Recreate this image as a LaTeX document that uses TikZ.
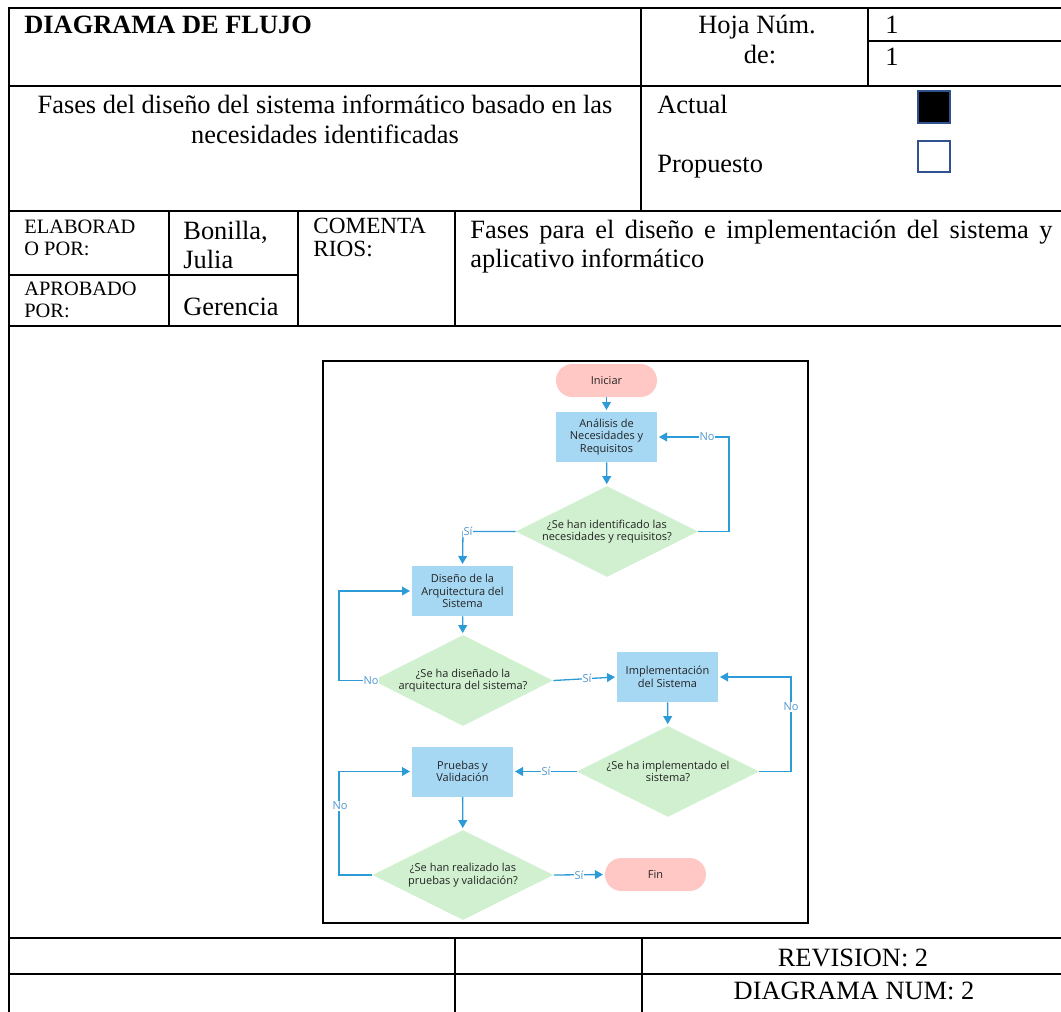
\documentclass[tikz,border=0pt]{standalone}
\usepackage{fontspec}
\setmainfont{Liberation Serif}
\newfontfamily\flowfont{Open Sans}
\usetikzlibrary{shapes.geometric,arrows.meta}

\definecolor{boxblue}{RGB}{166,216,244}
\definecolor{decgreen}{RGB}{208,240,208}
\definecolor{termpink}{RGB}{255,200,196}
\definecolor{flowblue}{RGB}{45,155,215}
\definecolor{labblue}{RGB}{80,150,205}
\definecolor{nodetext}{RGB}{35,35,35}
\definecolor{checkblue}{RGB}{47,82,143}

\newcommand{\flowtext}{\flowfont\fontsize{5.5}{6.2}\selectfont}
\newcommand{\bigserif}{\fontsize{13.2}{14.5}\selectfont}

\tikzset{
  grid/.style={line width=1pt, line cap=rect},
  cell/.style={inner sep=0pt, anchor=base, font=\bigserif},
  cellw/.style={cell, anchor=base west},
  smallcell/.style={inner sep=0pt, anchor=base west, font=\fontsize{10.2}{11}\selectfont},
  midcell/.style={inner sep=0pt, anchor=base west, font=\fontsize{11.6}{12}\selectfont},
  procbox/.style={rectangle, fill=boxblue, minimum width=50.5pt, minimum height=25pt,
    inner sep=0pt, align=center, font=\flowtext, text=nodetext},
  term/.style={rectangle, rounded corners=8.2pt, fill=termpink, minimum width=50.5pt,
    minimum height=16.5pt, inner sep=0pt, font=\flowtext, text=nodetext},
  decision/.style={diamond, fill=decgreen, inner sep=0pt, minimum width=91pt, minimum height=45.5pt},
  dectext/.style={inner sep=0pt, align=center, font=\flowtext, text=nodetext},
  flow/.style={draw=flowblue, line width=0.65pt, -{Triangle[length=4pt,width=4.4pt]}, shorten >=0.8pt},
  lab/.style={fill=white, inner sep=0.5pt, font=\flowtext, text=labblue}
}

\begin{document}
\begin{tikzpicture}[x=0.5pt,y=-0.5pt]
\useasboundingbox (0,0) rectangle (1061,1012);
\clip (0,0) rectangle (1061,1012);

% ---------- form grid ----------
\draw[grid] (9,8) -- (1061,8);
\draw[grid] (868,41) -- (1061,41);
\draw[grid] (9,86) -- (1061,86);
\draw[grid] (9,211) -- (1061,211);
\draw[grid] (9,275) -- (298,275);
\draw[grid] (9,326) -- (1061,326);
\draw[grid] (9,938) -- (1061,938);
\draw[grid] (9,974) -- (1061,974);
\draw[grid] (9,8) -- (9,1012);
\draw[grid] (641,8) -- (641,211);
\draw[grid] (868,8) -- (868,86);
\draw[grid] (169,211) -- (169,326);
\draw[grid] (298,211) -- (298,326);
\draw[grid] (455,211) -- (455,326);
\draw[grid] (455,938) -- (455,1012);
\draw[grid] (642,938) -- (642,1012);

% ---------- header texts ----------
\node[cellw, font=\bigserif\bfseries] (title) at (24,33) {DIAGRAMA DE FLUJO};
\node[cell] (hoja) at (757,33) {Hoja Núm.};
\node[cell] (de) at (760,63) {de:};
\node[cellw] (num1) at (885,33) {1};
\node[cellw] (num2) at (885,65) {1};

\node[cell] (fase1) at (325,113) {Fases del diseño del sistema informático basado en las};
\node[cell] (fase2) at (325,143) {necesidades identificadas};
\node[cellw] (actual) at (657,113) {Actual};
\node[cellw] (prop) at (657,172) {Propuesto};
\draw[draw=checkblue, line width=1pt, fill=black] (918,91) rectangle (950,123);
\draw[draw=checkblue, line width=1pt, fill=white] (918,141) rectangle (950,172);

\node[smallcell] (elab1) at (24,233) {ELABORAD};
\node[smallcell] (elab2) at (24,255) {O POR:};
\node[smallcell] (apro1) at (24,295) {APROBADO};
\node[smallcell] (apro2) at (24,317) {POR:};
\node[cellw] (bon1) at (183,239) {Bonilla,};
\node[cellw] (bon2) at (183,268) {Julia};
\node[cellw] (ger) at (183,315) {Gerencia};
\node[midcell] (com1) at (313,233) {COMENTA};
\node[midcell] (com2) at (313,256) {RIOS:};
\node[cellw] (desc1) at (470,238) {\makebox[291pt][s]{Fases para el diseño e implementación del sistema y}};
\node[cellw] (desc2) at (470,267) {aplicativo informático};

\node[cell] (rev) at (853,966) {REVISION: 2};
\node[cell] (dnum) at (854,999) {DIAGRAMA NUM: 2};

% ---------- flowchart frame ----------
\draw[line width=1.2pt] (323,361) rectangle (808,923);

% ---------- flowchart nodes ----------
\node[term] (ini) at (606.5,380.5) {Iniciar};
\node[procbox] (a1) at (606.5,437) {Análisis de\\Necesidades y\\Requisitos};
\node[decision] (d1) at (607,531.5) {};
\node[dectext] (d1t) at (607,531.5) {¿Se han identificado las\\necesidades y requisitos?};
\node[procbox] (a2) at (462.5,591) {Diseño de la\\Arquitectura del\\Sistema};
\node[decision, minimum width=90pt] (d2) at (463,680.5) {};
\node[dectext] (d2t) at (463,680.5) {¿Se ha diseñado la\\arquitectura del sistema?};
\node[procbox] (a3) at (667.5,677) {Implementación\\del Sistema};
\node[decision] (d3) at (668,771.5) {};
\node[dectext] (d3t) at (668,771.5) {¿Se ha implementado el\\sistema?};
\node[procbox] (a4) at (462.5,771.5) {Pruebas y\\Validación};
\node[decision, minimum width=90.5pt, minimum height=45pt] (d4) at (463,875) {};
\node[dectext] (d4t) at (463,875) {¿Se han realizado las\\pruebas y validación?};
\node[term] (fin) at (655.5,874.5) {Fin};

% ---------- connectors ----------
\coordinate (c1) at (729,531.5);
\coordinate (c2) at (729,437);
\coordinate (c3) at (463,531.5);
\coordinate (c4) at (339,680.5);
\coordinate (c5) at (339,591);
\coordinate (c6) at (791,771.5);
\coordinate (c7) at (791,677);
\coordinate (c8) at (339,875);
\coordinate (c9) at (339,771.5);

\draw[flow] (ini) -- (a1);
\draw[flow] (a1) -- (d1);
\draw[flow] (d1.east) -- (c1) -- (c2) -- (a1.east);
\draw[flow] (d1.west) -- (c3) -- (a2.north);
\draw[flow] (a2) -- (d2);
\draw[flow] (d2.west) -- (c4) -- (c5) -- (a2.west);
\draw[flow] (d2.east) -- (a3.west);
\draw[flow] (a3) -- (d3);
\draw[flow] (d3.east) -- (c6) -- (c7) -- (a3.east);
\draw[flow] (d3.west) -- (a4.east);
\draw[flow] (a4) -- (d4);
\draw[flow] (d4.west) -- (c8) -- (c9) -- (a4.west);
\draw[flow] (d4.east) -- (fin.west);

% ---------- branch labels ----------
\node[lab] (n1) at (707,437) {No};
\node[lab] (s1) at (468,531.5) {Sí};
\node[lab] (n2) at (371,680.5) {No};
\node[lab] (s2) at (587,678) {Sí};
\node[lab] (n3) at (791,707) {No};
\node[lab] (s3) at (546,771.5) {Sí};
\node[lab] (n4) at (340,806) {No};
\node[lab] (s4) at (579,875) {Sí};
\end{tikzpicture}
\end{document}
